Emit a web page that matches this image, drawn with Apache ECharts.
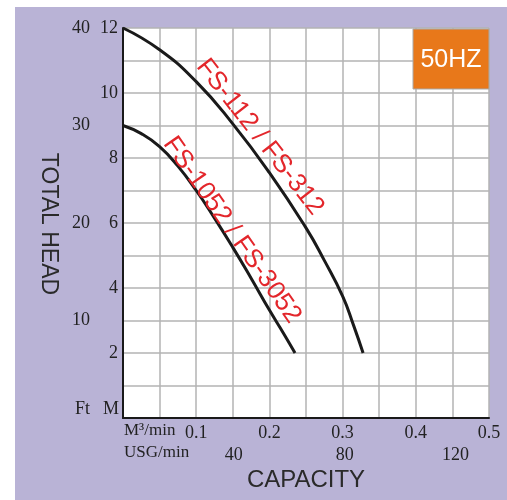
<!DOCTYPE html>
<html>
<head>
<meta charset="utf-8">
<script src="https://cdn.jsdelivr.net/npm/echarts@6/dist/echarts.min.js"></script>
<style>
  body { margin: 0; background: #fff; }
  #wrap { position: relative; width: 507px; height: 500px; background: #fff; }
  #panel { position: absolute; left: 15px; top: 7px; width: 492px; height: 493px; background: #b9b3d6; }
  #main { position: absolute; left: 0; top: 0; width: 507px; height: 500px; }
</style>
</head>
<body>
<div id="wrap">
  <div id="panel"></div>
  <div id="main"></div>
</div>
<script>
// FS-112 / FS-312 curve (capacity m3/min, head m)
const upperFlow = [0, 0.05, 0.1, 0.15, 0.2, 0.25, 0.275, 0.3, 0.315, 0.328];
const upperHead = [12, 11.33, 10.35, 9.05, 7.55, 5.85, 4.85, 3.75, 2.85, 2.0];
// FS-1052 / FS-3052 curve
const lowerFlow = [0, 0.025, 0.05, 0.075, 0.1, 0.125, 0.15, 0.175, 0.2, 0.22, 0.235];
const lowerHead = [9, 8.75, 8.35, 7.75, 7.0, 6.15, 5.25, 4.3, 3.32, 2.58, 2.0];

// tick labels
const headMTicks = [2, 4, 6, 8, 10, 12];
const headFtTicks = [10, 20, 30, 40];
const flowM3Ticks = [0.1, 0.2, 0.3, 0.4, 0.5];
const flowUsgTicks = [40, 80, 120];

const upperName = 'FS-112 / FS-312';
const lowerName = 'FS-1052 / FS-3052';

const M3_TO_USG = 264.172;
const serif = '"Liberation Serif", "DejaVu Serif", serif';
const sans = '"Liberation Sans", Arial, sans-serif';

function pairs(xs, ys) {
  return xs.map((x, i) => [x, ys[i]]);
}
function inTicks(list, v) {
  return list.some(t => Math.abs(t - v) < 1e-6);
}

const chart = echarts.init(document.getElementById('main'));

const option = {
  backgroundColor: 'transparent',
  animation: false,
  grid: {
    left: 123,
    right: 18,
    top: 28,
    bottom: 82,
    show: true,
    backgroundColor: '#fff',
    borderWidth: 0
  },
  xAxis: [
    {
      type: 'value',
      min: 0,
      max: 0.5,
      interval: 0.05,
      position: 'bottom',
      axisLine: { show: false },
      axisTick: { show: false },
      splitLine: { show: true, lineStyle: { color: '#b3b3b3', width: 1.5 } },
      axisLabel: {
        margin: 6,
        color: '#222',
        fontFamily: serif,
        fontSize: 18,
        showMinLabel: false,
        formatter: v => inTicks(flowM3Ticks, v) ? v.toFixed(1) : ''
      }
    },
    {
      type: 'value',
      min: 0,
      max: 0.5 * M3_TO_USG,
      interval: 40,
      position: 'bottom',
      offset: 23,
      axisLine: { show: true, lineStyle: { color: '#1a1a1a', width: 2 } },
      axisTick: { show: false },
      splitLine: { show: false },
      axisLabel: {
        margin: 5,
        color: '#222',
        fontFamily: serif,
        fontSize: 18,
        showMaxLabel: false,
        formatter: v => inTicks(flowUsgTicks, v) ? String(v) : ''
      }
    }
  ],
  yAxis: [
    {
      type: 'value',
      min: 0,
      max: 12,
      interval: 1,
      position: 'left',
      axisLine: { show: false },
      axisTick: { show: false },
      splitLine: { show: true, lineStyle: { color: '#b3b3b3', width: 1.5 } },
      axisLabel: {
        margin: 5,
        color: '#222',
        fontFamily: serif,
        fontSize: 18,
        formatter: v => inTicks(headMTicks, v) ? String(v) : ''
      }
    },
    {
      type: 'value',
      min: 0,
      max: 40,
      interval: 10,
      position: 'left',
      offset: 28,
      axisLine: { show: true, lineStyle: { color: '#1a1a1a', width: 2 } },
      axisTick: { show: false },
      splitLine: { show: false },
      axisLabel: {
        margin: 5,
        color: '#222',
        fontFamily: serif,
        fontSize: 18,
        formatter: v => inTicks(headFtTicks, v) ? String(v) : ''
      }
    }
  ],
  series: [
    {
      name: upperName,
      type: 'line',
      xAxisIndex: 0,
      yAxisIndex: 0,
      data: pairs(upperFlow, upperHead),
      smooth: 0.5,
      symbol: 'none',
      lineStyle: { color: '#1a1a1a', width: 3 }
    },
    {
      name: lowerName,
      type: 'line',
      xAxisIndex: 0,
      yAxisIndex: 0,
      data: pairs(lowerFlow, lowerHead),
      smooth: 0.5,
      symbol: 'none',
      lineStyle: { color: '#1a1a1a', width: 3 }
    }
  ],
  graphic: [
    // 50HZ box
    {
      type: 'rect',
      z: 100,
      shape: { x: 413, y: 29, width: 76, height: 60 },
      style: { fill: '#e8781a', stroke: '#a9a9a9', lineWidth: 1 }
    },
    {
      type: 'text',
      z: 101,
      x: 451,
      y: 60,
      style: { text: '50HZ', fill: '#fff', font: '25px ' + sans, textAlign: 'center', textVerticalAlign: 'middle' }
    },
    // curve labels
    {
      type: 'text',
      z: 50,
      x: 260,
      y: 137,
      rotation: -52 * Math.PI / 180,
      style: { text: upperName, fill: '#e3262b', font: '26px ' + sans, textAlign: 'center', textVerticalAlign: 'middle' }
    },
    {
      type: 'text',
      z: 50,
      x: 232,
      y: 230,
      rotation: -55 * Math.PI / 180,
      style: { text: lowerName, fill: '#e3262b', font: '26px ' + sans, textAlign: 'center', textVerticalAlign: 'middle' }
    },
    // axis unit texts
    {
      type: 'text',
      x: 90,
      y: 409,
      style: { text: 'Ft', fill: '#222', font: '18px ' + serif, textAlign: 'right', textVerticalAlign: 'middle' }
    },
    {
      type: 'text',
      x: 119,
      y: 409,
      style: { text: 'M', fill: '#222', font: '18px ' + serif, textAlign: 'right', textVerticalAlign: 'middle' }
    },
    {
      type: 'text',
      x: 124,
      y: 431,
      style: { text: 'M³/min', fill: '#222', font: '17px ' + serif, textAlign: 'left', textVerticalAlign: 'middle' }
    },
    {
      type: 'text',
      x: 124,
      y: 453,
      style: { text: 'USG/min', fill: '#222', font: '17px ' + serif, textAlign: 'left', textVerticalAlign: 'middle' }
    },
    // axis titles
    {
      type: 'text',
      x: 306,
      y: 480,
      style: { text: 'CAPACITY', fill: '#2a2a2a', font: '24px ' + sans, textAlign: 'center', textVerticalAlign: 'middle' }
    },
    {
      type: 'text',
      x: 48,
      y: 224,
      rotation: -Math.PI / 2,
      style: { text: 'TOTAL HEAD', fill: '#2a2a2a', font: '23px ' + sans, textAlign: 'center', textVerticalAlign: 'middle' }
    }
  ]
};

chart.setOption(option);
window.addEventListener('resize', () => chart.resize());
</script>
</body>
</html>
